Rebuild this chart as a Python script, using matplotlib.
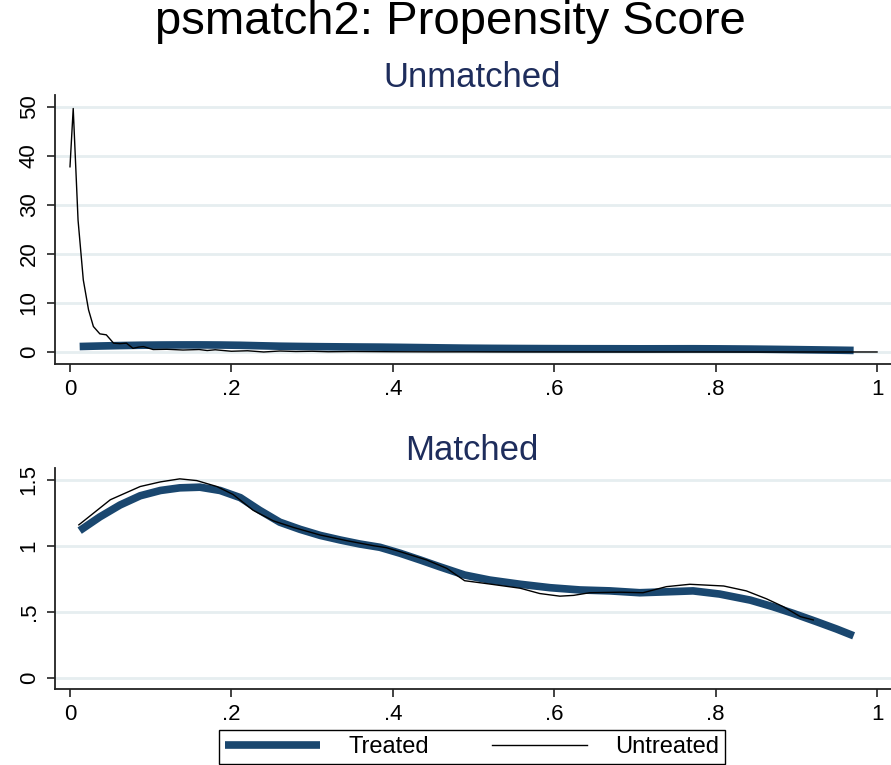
import matplotlib
matplotlib.use("Agg")
import matplotlib.pyplot as plt
from matplotlib.ticker import FixedLocator

plt.rcParams['font.family'] = ['Liberation Sans', 'DejaVu Sans']

# treated group density (same sample in both panels)
treated_x = [0.012, 0.037, 0.062, 0.087, 0.112, 0.136, 0.161, 0.186, 0.211, 0.235,
             0.260, 0.285, 0.310, 0.335, 0.359, 0.384, 0.409, 0.434, 0.458, 0.489,
             0.520, 0.558, 0.595, 0.632, 0.669, 0.706, 0.744, 0.772, 0.805, 0.843,
             0.871, 0.896, 0.925, 0.950, 0.971]
treated_y = [1.116, 1.22, 1.31, 1.38, 1.42, 1.44, 1.445, 1.42, 1.366, 1.27,
             1.18, 1.126, 1.08, 1.045, 1.015, 0.99, 0.945, 0.894, 0.843, 0.78,
             0.742, 0.71, 0.684, 0.667, 0.66, 0.646, 0.654, 0.66, 0.636, 0.59,
             0.54, 0.49, 0.427, 0.371, 0.32]

# untreated, before matching
unm_x = [0.0, 0.004, 0.010, 0.0165, 0.023, 0.029, 0.037, 0.045, 0.054, 0.062,
         0.070, 0.078, 0.085, 0.091, 0.097, 0.103, 0.12, 0.14, 0.16, 0.17,
         0.18, 0.20, 0.22, 0.24, 0.26, 0.28, 0.30, 0.32, 0.35, 0.40,
         0.45, 0.50, 0.55, 0.60, 0.70, 0.80, 0.90, 1.0]
unm_y = [37.8, 49.7, 26.9, 14.7, 8.6, 5.2, 3.7, 3.5, 1.8, 1.7,
         1.8, 0.75, 1.0, 1.1, 0.8, 0.5, 0.55, 0.4, 0.5, 0.3,
         0.45, 0.15, 0.25, 0.0, 0.2, 0.1, 0.15, 0.05, 0.1, 0.05,
         0.02, 0.02, 0.01, 0.01, 0.0, 0.0, 0.0, 0.0]

# untreated, after matching
mat_x = [0.011, 0.050, 0.087, 0.112, 0.136, 0.157, 0.182, 0.202, 0.227, 0.252,
         0.277, 0.310, 0.343, 0.376, 0.392, 0.409, 0.442, 0.467, 0.489, 0.520,
         0.558, 0.582, 0.607, 0.624, 0.644, 0.682, 0.710, 0.739, 0.768, 0.810,
         0.838, 0.863, 0.884, 0.905, 0.921]
mat_y = [1.16, 1.35, 1.45, 1.485, 1.508, 1.495, 1.45, 1.39, 1.27, 1.19,
         1.14, 1.083, 1.04, 1.002, 0.987, 0.957, 0.894, 0.83, 0.737, 0.712,
         0.68, 0.64, 0.62, 0.626, 0.646, 0.65, 0.646, 0.692, 0.71, 0.697,
         0.66, 0.60, 0.54, 0.465, 0.44]

x_ticks = [0, 0.2, 0.4, 0.6, 0.8, 1.0]
x_labels = ["0", ".2", ".4", ".6", ".8", "1"]
top_ticks = [0, 10, 20, 30, 40, 50]
top_labels = ["0", "10", "20", "30", "40", "50"]
bot_ticks = [0, 0.5, 1.0, 1.5]
bot_labels = ["0", ".5", "1", "1.5"]

navy = "#1a476f"
sub_color = "#1e2d5c"
grid_color = "#e6eef0"

fig = plt.figure(figsize=(8.91, 7.65), dpi=100)
ax1 = fig.add_axes([0.0617, 0.5242, 0.9383, 0.3516])
ax2 = fig.add_axes([0.0617, 0.0993, 0.9383, 0.2889])


def style(ax, yticks, ylabels):
    ax.set_xlim(-0.0186, 1.0173)
    ax.xaxis.set_major_locator(FixedLocator(x_ticks))
    ax.set_xticklabels(x_labels)
    ax.yaxis.set_major_locator(FixedLocator(yticks))
    ax.set_yticklabels(ylabels, rotation=90, va="center")
    for s in ["top", "right"]:
        ax.spines[s].set_visible(False)
    for s in ["left", "bottom"]:
        ax.spines[s].set_linewidth(1.3)
        ax.spines[s].set_color("#222222")
    ax.tick_params(direction="out", length=6, width=1.2, labelsize=16,
                   color="#222222", pad=5)
    ax.grid(axis="y", color=grid_color, linewidth=2)
    ax.set_axisbelow(True)


ax1.plot(treated_x, treated_y, color=navy, linewidth=5.5, solid_capstyle="butt")
ax1.plot(unm_x, unm_y, color="black", linewidth=1.0)
ax1.set_ylim(-2.45, 52.45)
style(ax1, top_ticks, top_labels)

l1, = ax2.plot(treated_x, treated_y, color=navy, linewidth=5.5, solid_capstyle="butt", label="Treated")
l2, = ax2.plot(mat_x, mat_y, color="black", linewidth=1.0, label="Untreated")
ax2.set_ylim(-0.083, 1.59)
style(ax2, bot_ticks, bot_labels)

fig.text(0.505, 0.971, "psmatch2: Propensity Score", ha="center", va="center", fontsize=34)
fig.text(0.53, 0.899, "Unmatched", ha="center", va="center", fontsize=25, color=sub_color)
fig.text(0.53, 0.411, "Matched", ha="center", va="center", fontsize=25, color=sub_color)

leg = fig.legend([l1, l2], ["Treated", "Untreated"], loc="center",
                 bbox_to_anchor=(0.53, 0.0235), ncol=2, fontsize=17,
                 handlelength=4.0, columnspacing=2.7, handletextpad=1.2,
                 fancybox=False, edgecolor="black", framealpha=1,
                 borderpad=0.25)
leg.get_frame().set_linewidth(1.0)

fig.savefig("out.png", dpi=100)
